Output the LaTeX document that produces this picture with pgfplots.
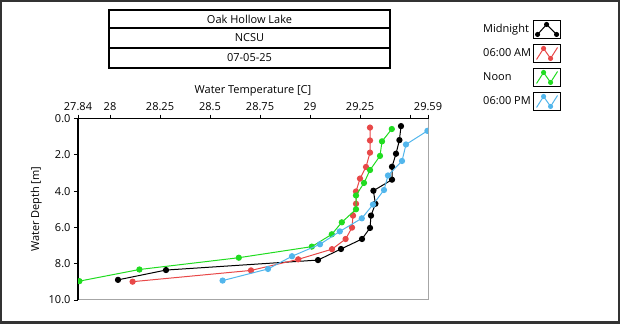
\documentclass[border=0pt]{standalone}
\usepackage{pgfplots}
\pgfplotsset{compat=1.18}
\usepackage{fontspec}
\setmainfont{Open Sans}
\definecolor{cRed}{RGB}{232,72,72}
\definecolor{cGreen}{RGB}{32,220,32}
\definecolor{cBlue}{RGB}{82,182,236}
\pgfplotsset{
  zigzagfour/.style={legend image code/.code={
    \draw[black, line width=1bp, fill=white, solid] (0bp,-9bp) rectangle (27bp,9bp);
    \draw[##1, mark size=2bp, mark indices={2,3}] plot coordinates {(3bp,-6bp) (10bp,5bp) (17bp,-5bp) (24bp,6bp)};
  }},
  zigzagthree/.style={legend image code/.code={
    \draw[black, line width=1bp, fill=white, solid] (0bp,-9bp) rectangle (27bp,9bp);
    \draw[##1, mark size=2bp] plot coordinates {(4bp,-5bp) (13bp,5bp) (23bp,-5bp)};
  }},
}
\begin{document}
\begin{tikzpicture}[font=\fontsize{11bp}{13bp}\selectfont]
\useasboundingbox (0bp,0bp) rectangle (620bp,324bp);
\draw[black!80, line width=2bp] (1bp,1.5bp) rectangle (619bp,323bp);
% title boxes
\draw[line width=1.5bp] (109bp,256bp) rectangle (390bp,314bp);
\draw[line width=1.5bp] (109bp,296bp) -- (390bp,296bp);
\draw[line width=1.5bp] (109bp,276bp) -- (390bp,276bp);
\node at (249.5bp,305bp) {Oak Hollow Lake};
\node at (249.5bp,286bp) {NCSU};
\node at (249.5bp,266bp) {07-05-25};
% plot frame right/bottom
\draw[gray!70, line width=1bp] (78bp,24bp) -- (428bp,24bp) -- (428bp,205.5bp);
\begin{axis}[
  at={(78bp,24bp)}, anchor=south west, scale only axis,
  width=350bp, height=181.5bp,
  xmin=27.84, xmax=29.59, ymin=0, ymax=10, y dir=reverse,
  axis x line*=top, axis y line*=left,
  axis line style={black, line width=1.2bp},
  xtick={27.84,28,28.25,28.5,28.75,29,29.25,29.5,29.59},
  xticklabels={27.84,28,28.25,28.5,28.75,29,29.25,,29.59},
  ytick={0,2,4,6,8,10},
  yticklabel style={/pgf/number format/.cd, fixed, fixed zerofill, precision=1},
  /pgf/number format/assume math mode=true,
  tick align=outside, major tick length=4bp, tick style={black, line width=1bp},
  xlabel={Water Temperature [C]}, ylabel={Water Depth [m]},
  clip marker paths=true,
  every axis plot/.append style={line width=1bp, mark=*, mark size=2.6bp},
  legend cell align=left, legend plot pos=right,
  legend style={draw=none, fill=none, at={(axis description cs:1.143,1.555)}, anchor=north west,
    row sep=5bp, /tikz/every even column/.append style={column sep=9bp}},
  zigzagfour,
]
\addplot[black, zigzagthree] coordinates {
(29.455,0.42) (29.447,1.19) (29.43,1.94) (29.41,2.66) (29.41,3.37) (29.317,3.98)
(29.327,4.70) (29.305,5.35) (29.30,6.03) (29.26,6.64) (29.155,7.19) (29.04,7.80)
(28.28,8.35) (28.04,8.89)};
\addlegendentry{Midnight}
\addplot[cRed] coordinates {
(29.30,0.50) (29.30,1.21) (29.30,1.88) (29.28,2.67) (29.25,3.31) (29.23,4.02)
(29.23,4.70) (29.215,5.35) (29.21,6.01) (29.178,6.64) (29.11,7.20) (28.941,7.76)
(28.705,8.37) (28.113,8.99)};
\addlegendentry{06:00 AM}
\addplot[cGreen] coordinates {
(29.409,0.58) (29.36,1.26) (29.35,2.06) (29.30,2.84) (29.27,3.55) (29.23,4.24)
(29.23,5.00) (29.159,5.72) (29.109,6.38) (29.009,7.06) (28.644,7.67) (28.147,8.32)
(27.847,8.96)};
\addlegendentry{Noon}
\addplot[cBlue] coordinates {
(29.587,0.68) (29.48,1.43) (29.46,2.34) (29.39,3.14) (29.37,3.94) (29.315,4.74)
(29.259,5.50) (29.149,6.22) (29.05,6.93) (28.91,7.59) (28.79,8.29) (28.563,8.93)};
\addlegendentry{06:00 PM}
\end{axis}
\end{tikzpicture}
\end{document}
